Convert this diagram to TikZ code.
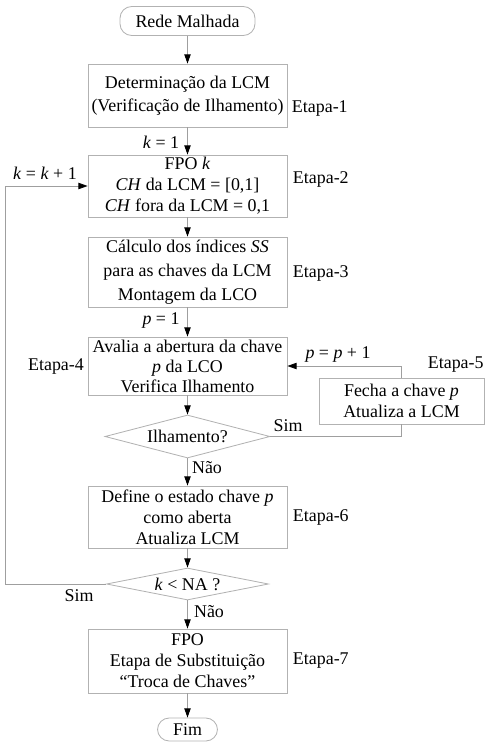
\documentclass[tikz,border=0pt]{standalone}
\usepackage{fontspec}
\setmainfont{Liberation Serif}
\usetikzlibrary{arrows.meta,shapes.geometric}

\begin{document}
\begin{tikzpicture}[x=0.6pt, y=-0.6pt, line width=0.5pt,
    >={Triangle[length=5.5pt,width=3.8pt,color=black]},
    every node/.style={font=\fontsize{10.75}{12.6}\selectfont, text=black},
    caixa/.style={draw=gray!60, minimum width=119.4pt, align=center, inner sep=1pt},
    term/.style={draw=gray!60, rounded corners=7pt, inner sep=0pt},
    decisao/.style={draw=gray!60, diamond, inner sep=0pt},
    linha/.style={draw=gray!75}]
    \useasboundingbox (0,0) rectangle (484,742);

    % 起止
    \node[term, minimum width=81pt, minimum height=17.4pt] (inicio) at (187.5,21) {Rede Malhada};
    \node[term, minimum width=36pt, minimum height=13.8pt] (fim) at (187.5,729.5) {Fim};

    % 各步骤方框
    \node[caixa, minimum height=37.8pt, font=\fontsize{10.75}{13.8}\selectfont]
         (det) at (187.5,95.5) {Determinação da LCM\\(Verificação de Ilhamento)};
    \node[caixa, minimum height=37.2pt]
         (fpo) at (187.5,186) {FPO \textit{k}\\\textit{CH} da LCM = [0,1]\\\textit{CH} fora da LCM = 0,1};
    \node[caixa, minimum height=42pt, font=\fontsize{10.75}{14.4}\selectfont]
         (ss) at (187.5,272) {Cálculo dos índices \textit{SS}\\para as chaves da LCM\\Montagem da LCO};
    \node[caixa, minimum height=34.8pt, font=\fontsize{10.75}{12}\selectfont]
         (aval) at (187.5,366) {Avalia a abertura da chave\\\textit{p} da LCO\\Verifica Ilhamento};
    \node[caixa, minimum width=99pt, minimum height=27.6pt]
         (fecha) at (401.5,401) {Fecha a chave \textit{p}\\Atualiza a LCM};
    \node[caixa, minimum height=37.2pt]
         (define) at (187.5,517) {Define o estado chave \textit{p}\\como aberta\\Atualiza LCM};
    \node[caixa, minimum height=38.4pt]
         (troca) at (187.5,661) {FPO\\Etapa de Substituição\\“Troca de Chaves”};

    % 判断
    \node[decisao, aspect=3.8, minimum width=99pt, minimum height=25.8pt] (ilha) at (187.5,436.5) {Ilhamento?};
    \node[decisao, aspect=5, minimum width=97.2pt, minimum height=19.2pt] (kna) at (187.5,584) {\textit{k} < NA ?};

    % 步骤编号
    \node[anchor=west] (et1) at (286,108) {Etapa-1};
    \node[anchor=west] (et2) at (287,179) {Etapa-2};
    \node[anchor=west] (et3) at (287,273) {Etapa-3};
    \node (et4) at (56,367) {Etapa-4};
    \node[anchor=east, inner sep=0pt] (et5) at (484,365) {Etapa-5};
    \node[anchor=west] (et6) at (287,517) {Etapa-6};
    \node[anchor=west] (et7) at (287,661) {Etapa-7};

    % 连线标注
    \node (k1) at (161,142) {\textit{k} = 1};
    \node (kk) at (45,173) {\textit{k} = \textit{k} + 1};
    \node (p1) at (161,320) {\textit{p} = 1};
    \node (pp) at (338,354) {\textit{p} = \textit{p} + 1};
    \node (sim1) at (288,426) {Sim};
    \node (nao1) at (207,468) {Não};
    \node (sim2) at (79,596) {Sim};
    \node (nao2) at (209,612) {Não};

    % 回路拐点
    \coordinate (retorno) at (5,186);

    % 连线
    \draw[linha,->] (inicio.south) -- (det.north);
    \draw[linha,->] (det.south) -- (fpo.north);
    \draw[linha,->] (fpo.south) -- (ss.north);
    \draw[linha,->] (ss.south) -- (aval.north);
    \draw[linha,->] (aval.south) -- (ilha.north);
    \draw[linha,->] (ilha.south) -- (define.north);
    \draw[linha,->] (define.south) -- (kna.north);
    \draw[linha,->] (kna.south) -- (troca.north);
    \draw[linha,->] (troca.south) -- (fim.north);
    \draw[linha] (ilha.east) -| (fecha.south);
    \draw[linha,->] (fecha.north) |- (aval.east);
    \draw[linha,->] (kna.west) -| (retorno) -- (fpo.west);
  \end{tikzpicture}
\end{document}
